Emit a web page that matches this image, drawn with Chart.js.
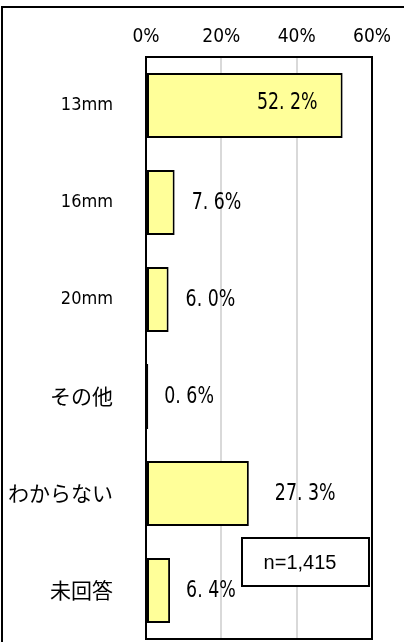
<!DOCTYPE html>
<html>
<head>
<meta charset="utf-8">
<script src="https://cdn.jsdelivr.net/npm/chart.js@4/dist/chart.umd.min.js"></script>
<style>
  html, body { margin: 0; padding: 0; background: #fff; overflow: hidden; }
</style>
</head>
<body>
<canvas id="chart" width="404" height="642"></canvas>
<script>
const categories = ['13mm', '16mm', '20mm', 'その他', 'わからない', '未回答'];
const shares = [52.2, 7.6, 6.0, 0.6, 27.3, 6.4];
const xTicks = [0, 20, 40, 60];
// distance of each value label from its bar end (negative = inside the bar)
const labelOffsets = [-25, 17, 17, 16, 26, 16];
const sampleNote = 'n=1,415';

const NARROW = "'DejaVu Sans Condensed', 'Noto Sans CJK JP', sans-serif";
const GOTHIC = "'Noto Sans CJK JP', sans-serif";

function fmt(v) {
    return v.toFixed(1).replace('.', '. ') + '%';
}

const extras = {
    id: 'extras',
    afterDatasetsDraw(chart) {
        const ctx = chart.ctx;
        const area = chart.chartArea;
        const meta = chart.getDatasetMeta(0);

        // value labels, squeezed horizontally
        const sx = 0.84;
        ctx.save();
        ctx.fillStyle = '#000';
        ctx.font = '23px ' + NARROW;
        ctx.textBaseline = 'middle';
        meta.data.forEach((bar, i) => {
            const off = labelOffsets[i];
            ctx.save();
            ctx.translate(bar.x + off, bar.y + (off < 0 ? -2 : 1));
            ctx.scale(sx, 1);
            ctx.textAlign = off < 0 ? 'right' : 'left';
            ctx.fillText(fmt(shares[i]), 0, 0);
            ctx.restore();
        });
        ctx.restore();

        // plot frame
        ctx.save();
        ctx.strokeStyle = '#000';
        ctx.lineWidth = 2;
        ctx.strokeRect(area.left, area.top, area.right - area.left, area.bottom - area.top);
        ctx.restore();

        // sample size box
        ctx.save();
        ctx.fillStyle = '#fff';
        ctx.fillRect(242, 538, 127, 48);
        ctx.strokeStyle = '#000';
        ctx.lineWidth = 2;
        ctx.strokeRect(242, 538, 127, 48);
        ctx.fillStyle = '#000';
        ctx.font = "20px 'Liberation Sans', Arial, sans-serif";
        ctx.textAlign = 'center';
        ctx.textBaseline = 'middle';
        ctx.fillText(sampleNote, 300, 563);
        ctx.restore();

        // outer frame
        ctx.save();
        ctx.strokeStyle = '#000';
        ctx.lineWidth = 2;
        ctx.strokeRect(2, 7, 500, 700);
        ctx.restore();
    }
};

new Chart(document.getElementById('chart'), {
    type: 'bar',
    data: {
        labels: categories,
        datasets: [{
            data: shares,
            backgroundColor: '#ffff99',
            borderColor: '#000',
            borderWidth: 2,
            borderSkipped: false,
            categoryPercentage: 1,
            barPercentage: 0.67
        }]
    },
    options: {
        indexAxis: 'y',
        responsive: false,
        animation: false,
        layout: { padding: { left: 0, right: 32, top: 0, bottom: 3 } },
        plugins: { legend: { display: false }, tooltip: { enabled: false } },
        scales: {
            x: {
                type: 'linear',
                position: 'top',
                min: 0,
                max: 60,
                afterBuildTicks: s => { s.ticks = xTicks.map(v => ({ value: v })); },
                afterFit: s => {
                    s.height = 57;
                    s.paddingLeft = 0;
                    s.paddingRight = 0;
                },
                ticks: {
                    color: '#000',
                    padding: 9,
                    maxRotation: 0,
                    font: { family: NARROW, size: 19 },
                    callback: v => v + '%'
                },
                grid: {
                    drawTicks: false,
                    lineWidth: 2,
                    color: c => (c.tick && (c.tick.value === 20 || c.tick.value === 40)) ? '#d9d9d9' : 'rgba(0,0,0,0)'
                },
                border: { display: false }
            },
            y: {
                afterFit: s => {
                    s.width = 146;
                    s.paddingTop = 0;
                    s.paddingBottom = 0;
                },
                ticks: {
                    color: '#000',
                    padding: 33,
                    font: c => /mm$/.test(categories[c.index])
                        ? { family: NARROW, size: 18 }
                        : { family: GOTHIC, size: 21 }
                },
                grid: { display: false, drawTicks: false },
                border: { display: false }
            }
        }
    },
    plugins: [extras]
});
</script>
</body>
</html>
